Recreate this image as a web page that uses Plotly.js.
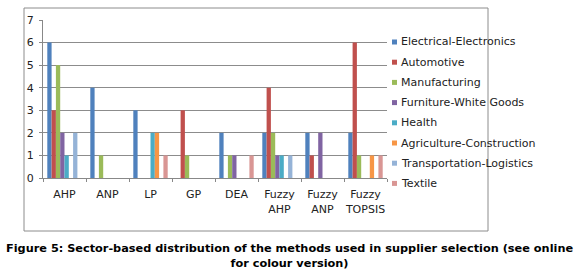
<!DOCTYPE html>
<html><head><meta charset="utf-8">
<script src="https://cdn.plot.ly/plotly-3.0.1.min.js"></script>
<style>html,body{margin:0;padding:0;background:#fff;}#chart{width:580px;height:277px;}</style>
</head><body><div id="chart"></div>
<script>
const methods = ["AHP","ANP","LP","GP","DEA","Fuzzy<br>AHP","Fuzzy<br>ANP","Fuzzy<br>TOPSIS"];
const sectors = ["Electrical-Electronics","Automotive","Manufacturing","Furniture-White Goods","Health","Agriculture-Construction","Transportation-Logistics","Textile"];
const electrical     = [6,4,3,0,2,2,2,2];
const automotive     = [3,0,0,3,0,4,1,6];
const manufacturing  = [5,1,0,1,1,2,0,1];
const furniture      = [2,0,0,0,1,1,2,0];
const health         = [1,0,2,0,0,1,0,0];
const agriculture    = [0,0,2,0,0,0,0,1];
const transportation = [2,0,0,0,0,1,0,0];
const textile        = [0,0,1,0,1,0,0,1];
const colors = ["#4F81BD","#C0504D","#9BBB59","#8064A2","#4BACC6","#F79646","#95B3D7","#D99694"];
const yTicks = [0,1,2,3,4,5,6,7];
const caption = "Figure 5: Sector-based distribution of the methods used in supplier selection (see online<br>for colour version)";

const FONT = "DejaVu Sans, sans-serif";
const series = [electrical,automotive,manufacturing,furniture,health,agriculture,transportation,textile];
const data = series.map((vals,i)=>({
  type:"bar", x:methods, y:vals, name:sectors[i],
  marker:{color:colors[i]}
}));

const W=580,H=277, L=43, R=387, T=20, B=178;
const px = x => (x-L)/(R-L);
const py = y => (B-y)/(B-T);

const shapes = [{type:"rect", xref:"paper", yref:"paper", x0:px(24), x1:px(488), y0:py(231), y1:py(8),
    line:{color:"#8c8c8c", width:1}, fillcolor:"rgba(0,0,0,0)", layer:"below"}];
const annotations = [{xref:"paper", yref:"paper", x:px(289), y:py(240), xanchor:"center", yanchor:"top",
    text:caption, showarrow:false, align:"center",
    font:{family:"DejaVu Sans, sans-serif", size:11.3, color:"#000", weight:"bold"}}];
sectors.forEach((s,i)=>{
  const cy = 42 + i*20.2;
  shapes.push({type:"rect", xref:"paper", yref:"paper", x0:px(392), x1:px(397), y0:py(cy+2.5), y1:py(cy-2.5),
    line:{width:0}, fillcolor:colors[i]});
  annotations.push({xref:"paper", yref:"paper", x:px(398.5), y:py(cy), xanchor:"left", yanchor:"middle",
    text:s, showarrow:false, font:{family:FONT, size:11, color:"#222"}});
});

const layout = {
  width:W, height:H,
  margin:{l:L, r:W-R, t:T, b:H-B, pad:0},
  paper_bgcolor:"#fff", plot_bgcolor:"#fff",
  barmode:"group", bargap:0.2, bargroupgap:0,
  font:{family:FONT, size:11, color:"#222"},
  xaxis:{type:"category", showgrid:false, showline:true, linecolor:"#888", linewidth:1,
    ticks:"outside", tickson:"boundaries", ticklen:3, tickcolor:"#888", tickangle:0,
    ticklabelstandoff:6, tickfont:{size:11,color:"#222"}, fixedrange:true},
  yaxis:{range:[0,7], tickvals:yTicks, showgrid:true, gridcolor:"#8c8c8c", gridwidth:1,
    showline:true, linecolor:"#888", linewidth:1, ticks:"outside", ticklen:3, tickcolor:"#888",
    ticklabelstandoff:3, zeroline:false, tickfont:{size:11,color:"#222"}, fixedrange:true},
  showlegend:false,
  shapes:shapes,
  annotations:annotations
};
Plotly.newPlot("chart", data, layout, {staticPlot:true, displayModeBar:false});
</script></body></html>
